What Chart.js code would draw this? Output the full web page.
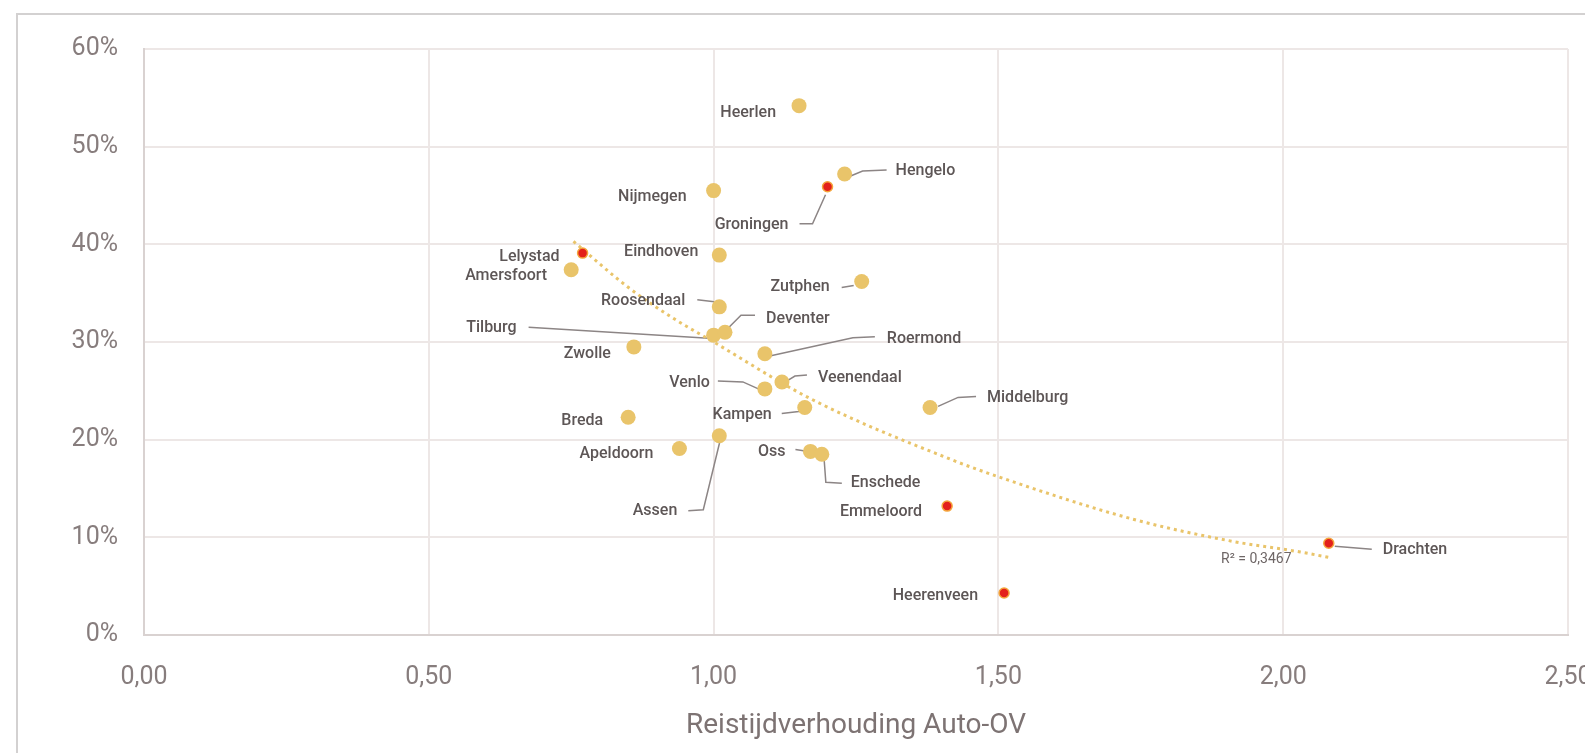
<!DOCTYPE html>
<html>
<head>
<meta charset="utf-8">
<title>Reistijdverhouding Auto-OV</title>
<script src="https://cdn.jsdelivr.net/npm/chart.js@4.4.1/dist/chart.umd.min.js"></script>
<style>
    html, body { margin: 0; padding: 0; background: #fff; overflow: hidden; }
    #frame {
        position: absolute; left: 16px; top: 13px; width: 1700px; height: 900px;
        border-top: 2px solid #d3d1d1; border-left: 2px solid #d3d1d1;
    }
    #wrap { position: absolute; left: 0; top: 0; width: 1640px; height: 753px; }
</style>
</head>
<body>
<div id="frame"></div>
<div id="wrap"><canvas id="chart" width="1640" height="753"></canvas></div>
<script>
// Cities, travel time ratio car/public transport (x) and share (y, %)
let cities = ['Heerlen', 'Hengelo', 'Groningen', 'Nijmegen', 'Lelystad', 'Amersfoort', 'Eindhoven',
    'Zutphen', 'Roosendaal', 'Tilburg', 'Deventer', 'Roermond', 'Zwolle', 'Venlo', 'Veenendaal',
    'Kampen', 'Middelburg', 'Breda', 'Assen', 'Apeldoorn', 'Oss', 'Enschede', 'Emmeloord',
    'Heerenveen', 'Drachten'];
let ratio = [1.15, 1.23, 1.20, 1.00, 0.77, 0.75, 1.01,
    1.26, 1.01, 1.00, 1.02, 1.09, 0.86, 1.09, 1.12,
    1.16, 1.38, 0.85, 1.01, 0.94, 1.17, 1.19, 1.41,
    1.51, 2.08];
let share = [54.2, 47.2, 45.9, 45.5, 39.1, 37.4, 38.9,
    36.2, 33.6, 30.7, 31.0, 28.8, 29.5, 25.2, 25.9,
    23.3, 23.3, 22.3, 20.4, 19.1, 18.8, 18.5, 13.2,
    4.3, 9.4];
// cities drawn as red dots
let highlighted = ['Groningen', 'Lelystad', 'Emmeloord', 'Heerenveen', 'Drachten'];

// trendline
let trendX = [0.754, 0.85, 0.93, 1.00, 1.17, 1.42, 1.50, 1.74, 1.91, 2.03, 2.084];
let trendY = [40.3, 35.6, 32.4, 30.0, 24.2, 17.9, 16.2, 11.8, 9.6, 8.5, 7.9];
let rSquared = 'R² = 0,3467';

let xTicks = [0, 0.5, 1, 1.5, 2, 2.5];
let yTicks = [0, 10, 20, 30, 40, 50, 60];

// label placement: anchor offset from the dot in px, text align, leader line
let labelLayout = {
    'Heerlen':    { dx: -23, dy: 7, align: 'right' },
    'Hengelo':    { dx: 51, dy: -3, align: 'left', line: [[6, 2], [18, -3], [42, -4]] },
    'Groningen':  { dx: -39, dy: 38, align: 'right', line: [[-28, 37], [-15, 37], [-2, 8]] },
    'Nijmegen':   { dx: -27, dy: 6, align: 'right' },
    'Lelystad':   { dx: -23, dy: 4, align: 'right' },
    'Amersfoort': { dx: -24, dy: 6, align: 'right' },
    'Eindhoven':  { dx: -21, dy: -3, align: 'right' },
    'Zutphen':    { dx: -32, dy: 6, align: 'right', line: [[-20, 6], [-8, 4]] },
    'Roosendaal': { dx: -34, dy: -6, align: 'right', line: [[-22, -7], [-5, -5]] },
    'Tilburg':    { dx: -197, dy: -7, align: 'right', line: [[-185, -8], [-5, 3]] },
    'Deventer':   { dx: 41, dy: -13, align: 'left', line: [[30, -17], [16, -17], [3, -4]] },
    'Roermond':   { dx: 122, dy: -15, align: 'left', line: [[110, -17], [88, -16], [6, 2]] },
    'Zwolle':     { dx: -23, dy: 7, align: 'right' },
    'Venlo':      { dx: -55, dy: -6, align: 'right', line: [[-47, -8], [-22, -7], [-2, 2]] },
    'Veenendaal': { dx: 36, dy: -4, align: 'left', line: [[25, -7], [13, -6], [3, 0]] },
    'Kampen':     { dx: -33, dy: 8, align: 'right', line: [[-23, 6], [-6, 4], [0, 1]] },
    'Middelburg': { dx: 57, dy: -9, align: 'left', line: [[8, -1], [28, -10], [46, -11]] },
    'Breda':      { dx: -25, dy: 4, align: 'right' },
    'Assen':      { dx: -42, dy: 75, align: 'right', line: [[-31, 75], [-16, 74], [1, 4]] },
    'Apeldoorn':  { dx: -26, dy: 6, align: 'right' },
    'Oss':        { dx: -25, dy: 1, align: 'right', line: [[-15, -2], [-2, 0]] },
    'Enschede':   { dx: 29, dy: 29, align: 'left', line: [[2, 1], [4, 28], [20, 29]] },
    'Emmeloord':  { dx: -25, dy: 6, align: 'right' },
    'Heerenveen': { dx: -26, dy: 3, align: 'right' },
    'Drachten':   { dx: 54, dy: 7, align: 'left', line: [[6, 3], [43, 6]] }
};

let yellow = '#e9c46a';
let red = '#e3201b';
let labelFont = '500 16px Roboto, "Noto Sans", sans-serif';

function buildPoints(red) {
    let pts = [];
    for (let i = 0; i < cities.length; i++) {
        if (highlighted.includes(cities[i]) === red) {
            pts.push({ x: ratio[i], y: share[i], name: cities[i] });
        }
    }
    return pts;
}

function formatComma(v) {
    return v.toFixed(2).replace('.', ',');
}

// Leader lines under the dots, city names on top
let labelPlugin = {
    id: 'cityLabels',
    beforeDatasetsDraw(chart) {
        let ctx = chart.ctx;
        let xs = chart.scales.x, ys = chart.scales.y;
        ctx.save();
        ctx.strokeStyle = '#8c8585';
        ctx.lineWidth = 1.5;
        for (let i = 0; i < cities.length; i++) {
            let lay = labelLayout[cities[i]];
            if (!lay || !lay.line) continue;
            let px = xs.getPixelForValue(ratio[i]);
            let py = ys.getPixelForValue(share[i]);
            ctx.beginPath();
            lay.line.forEach((p, k) => {
                if (k === 0) ctx.moveTo(px + p[0], py + p[1]);
                else ctx.lineTo(px + p[0], py + p[1]);
            });
            ctx.stroke();
        }
        ctx.restore();
    },
    afterDatasetsDraw(chart) {
        let ctx = chart.ctx;
        let xs = chart.scales.x, ys = chart.scales.y;
        ctx.save();
        ctx.font = labelFont;
        ctx.fillStyle = '#5d5656';
        ctx.textBaseline = 'middle';
        for (let i = 0; i < cities.length; i++) {
            let lay = labelLayout[cities[i]];
            let px = xs.getPixelForValue(ratio[i]);
            let py = ys.getPixelForValue(share[i]);
            ctx.textAlign = lay.align;
            ctx.fillText(cities[i], px + lay.dx, py + lay.dy);
        }
        // R squared next to the end of the trendline
        let last = trendX.length - 1;
        let tx = xs.getPixelForValue(trendX[last]);
        let ty = ys.getPixelForValue(trendY[last]);
        ctx.font = '14px Roboto, "Noto Sans", sans-serif';
        ctx.fillStyle = '#6e6666';
        ctx.textAlign = 'left';
        ctx.fillText(rSquared, tx - 110, ty + 2);
        ctx.restore();
    }
};

let ctx = document.getElementById('chart').getContext('2d');
new Chart(ctx, {
    type: 'scatter',
    data: {
        datasets: [
            {
                label: 'Rood',
                data: buildPoints(true),
                backgroundColor: red,
                borderColor: '#f4a53c',
                borderWidth: 1.5,
                pointRadius: 5,
                pointHoverRadius: 5
            },
            {
                label: 'Trend',
                data: trendX.map((x, i) => ({ x: x, y: trendY[i] })),
                showLine: true,
                borderColor: yellow,
                borderWidth: 3,
                borderDash: [3, 4],
                cubicInterpolationMode: 'monotone',
                pointRadius: 0,
                fill: false
            },
            {
                label: 'Steden',
                data: buildPoints(false),
                backgroundColor: yellow,
                borderColor: yellow,
                borderWidth: 0,
                pointRadius: 7.5,
                pointHoverRadius: 7.5
            }
        ]
    },
    options: {
        responsive: false,
        animation: false,
        events: [],
        layout: { padding: { left: 0, top: 49, right: 72, bottom: 0 } },
        plugins: {
            legend: { display: false },
            tooltip: { enabled: false }
        },
        scales: {
            x: {
                type: 'linear',
                min: 0,
                max: 2.5,
                afterBuildTicks: (scale) => { scale.ticks = xTicks.map(v => ({ value: v })); },
                afterFit: (scale) => { scale.height = 118; },
                grid: { color: '#ede7e6', lineWidth: 2, drawTicks: false },
                border: { color: '#d9d2d1', width: 2 },
                ticks: {
                    padding: 28,
                    color: '#877d7d',
                    font: { family: 'Roboto', size: 25 },
                    callback: (v) => formatComma(v)
                },
                title: {
                    display: true,
                    text: 'Reistijdverhouding Auto-OV',
                    color: '#7d7373',
                    font: { family: 'Roboto', size: 28 },
                    padding: { top: 0, bottom: 10 }
                }
            },
            y: {
                type: 'linear',
                min: 0,
                max: 60,
                afterBuildTicks: (scale) => { scale.ticks = yTicks.map(v => ({ value: v })); },
                afterFit: (scale) => { scale.width = 144; },
                grid: { color: '#ede7e6', lineWidth: 2, drawTicks: false },
                border: { color: '#d9d2d1', width: 2 },
                ticks: {
                    padding: 26,
                    color: '#877d7d',
                    font: { family: 'Roboto', size: 25 },
                    callback: (v) => v + '%'
                }
            }
        }
    },
    plugins: [labelPlugin]
});
</script>
</body>
</html>
